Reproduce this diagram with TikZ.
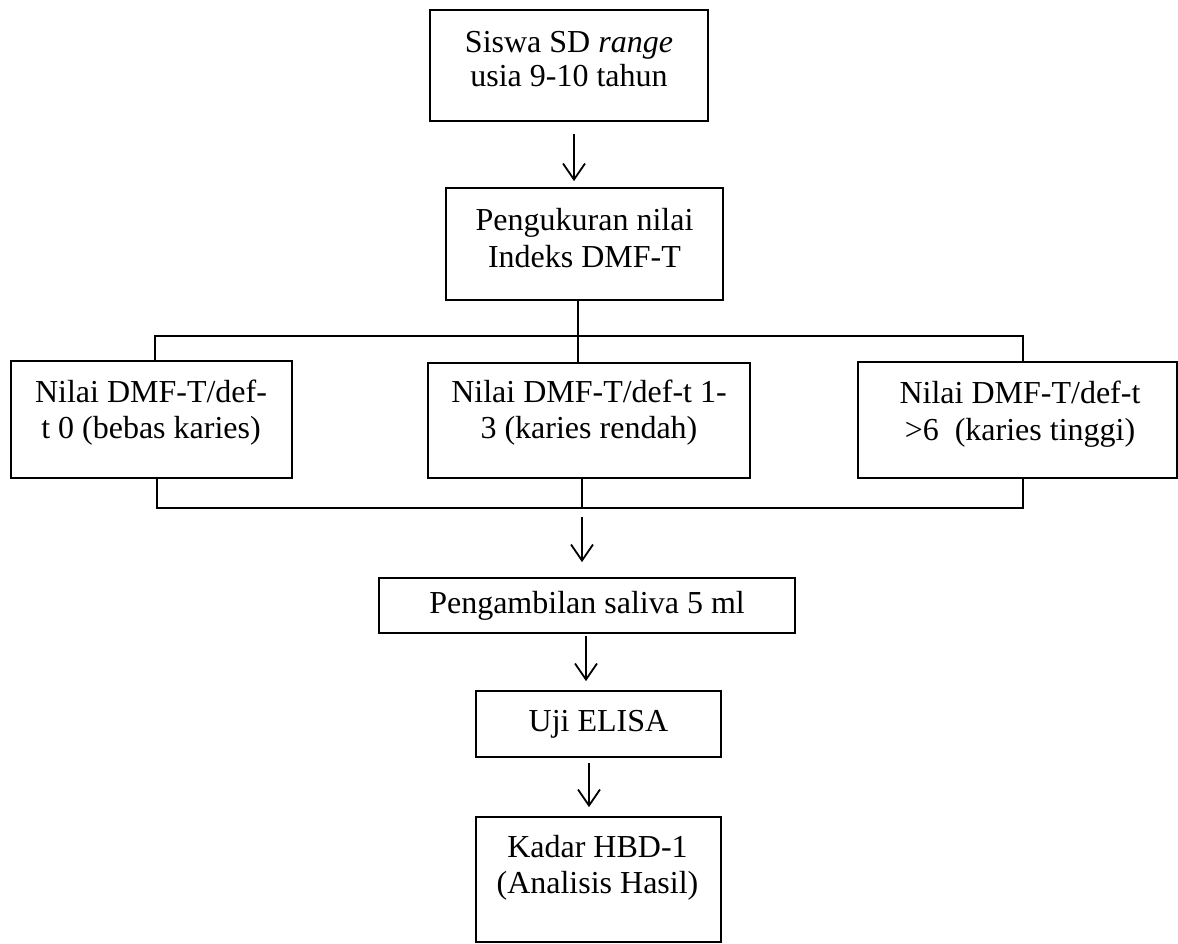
\documentclass[tikz,border=0pt]{standalone}
\usepackage{fontspec}
\setmainfont{Liberation Serif}
\usetikzlibrary{arrows.meta}
\begin{document}
\begin{tikzpicture}[x=0.5pt,y=-0.5pt,
  box/.style={draw=black, line width=0.9pt, inner sep=0pt, rectangle},
  txt/.style={inner sep=0pt, align=center, anchor=north, text=black},
  conn/.style={draw=black, line width=0.9pt},
  arr/.style={conn, -{Straight Barb[length=8pt,width=11pt]}}]
\useasboundingbox (0,0) rectangle (1178,943);
\fill[white] (0,0) rectangle (1178,943);
% boxes
\node[box, minimum width=139pt, minimum height=55.5pt] (b1) at (569,65.5) {};
\node[box, minimum width=138.5pt, minimum height=56pt] (b2) at (584.5,244) {};
\node[box, minimum width=140.5pt, minimum height=58.5pt] (bA) at (151.5,419.5) {};
\node[box, minimum width=161pt, minimum height=57.5pt] (bB) at (589,420.5) {};
\node[box, minimum width=159.5pt, minimum height=58pt] (bC) at (1017.5,420) {};
\node[box, minimum width=208pt, minimum height=27.5pt] (bS) at (587,605.5) {};
\node[box, minimum width=122.5pt, minimum height=33pt] (bU) at (598.5,724) {};
\node[box, minimum width=122.5pt, minimum height=62.5pt] (bK) at (598.5,879.5) {};
% texts
\node[txt, font=\fontsize{16pt}{17pt}\selectfont] (t1) at (569,31) {Siswa SD \textit{range}\\usia 9-10 tahun};
\node[txt, font=\fontsize{16pt}{18.5pt}\selectfont] (t2) at (584.5,208) {Pengukuran nilai\\Indeks DMF-T};
\node[txt, font=\fontsize{16pt}{18pt}\selectfont] (tA) at (151,380) {Nilai DMF-T/def-\\t 0 (bebas karies)};
\node[txt, font=\fontsize{16pt}{18pt}\selectfont] (tB) at (589,380) {Nilai DMF-T/def-t 1-\\3 (karies rendah)};
\node[txt, font=\fontsize{16pt}{18.5pt}\selectfont] (tC) at (1020,381) {Nilai DMF-T/def-t\\>6\ \ (karies tinggi)};
\node[txt, font=\fontsize{16pt}{18pt}\selectfont] (tS) at (587,591) {Pengambilan saliva 5 ml};
\node[txt, font=\fontsize{16pt}{18pt}\selectfont] (tU) at (598.5,710) {Uji ELISA};
\node[txt, font=\fontsize{16pt}{18pt}\selectfont] (tK) at (597.5,835) {Kadar HBD-1\\(Analisis Hasil)};
% helper coordinates
\coordinate (c1) at (574,0);
\coordinate (c2) at (578,0);
\coordinate (hL) at (155,336);
\coordinate (hR) at (1023,336);
\coordinate (gL) at (157,508);
\coordinate (gM) at (582,508);
\coordinate (gR) at (1023,508);
\coordinate (c3) at (586,0);
\coordinate (c4) at (589,0);
% connectors
\draw[arr, shorten <=6pt, shorten >=3pt] (b1.south -| c1) -- (b2.north -| c1);
\draw[conn] (b2.south -| c2) -- (bB.north -| c2);
\draw[conn] (bA.north -| hL) -- (hL) -- (hR) -- (bC.north -| hR);
\draw[conn] (bA.south -| gL) -- (gL) -- (gR) -- (bC.south -| gR);
\draw[conn] (bB.south -| gM) -- (gM);
\draw[arr, shorten <=4.5pt, shorten >=7.5pt] (gM) -- (bS.north -| gM);
\draw[arr, shorten <=1pt, shorten >=4.5pt] (bS.south -| c3) -- (bU.north -| c3);
\draw[arr, shorten <=2.5pt, shorten >=4.5pt] (bU.south -| c4) -- (bK.north -| c4);
\end{tikzpicture}
\end{document}
